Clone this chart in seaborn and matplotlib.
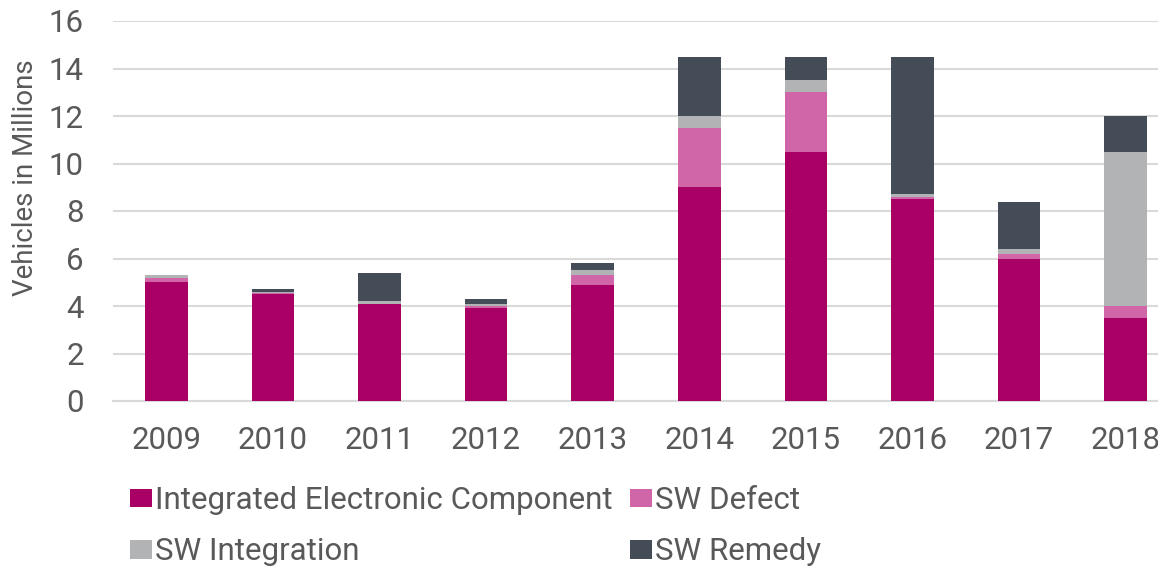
import numpy as np
import pandas as pd
import matplotlib
matplotlib.use("Agg")
import matplotlib.pyplot as plt
from matplotlib.patches import Patch
import seaborn as sns

years = ["2009", "2010", "2011", "2012", "2013", "2014", "2015", "2016", "2017", "2018"]
integrated_component = [5.0, 4.5, 4.1, 3.9, 4.9, 9.0, 10.5, 8.5, 6.0, 3.5]
sw_defect = [0.2, 0.03, 0.0, 0.08, 0.4, 2.5, 2.5, 0.07, 0.2, 0.5]
sw_integration = [0.1, 0.07, 0.1, 0.1, 0.2, 0.5, 0.5, 0.13, 0.2, 6.5]
sw_remedy = [0.0, 0.1, 1.2, 0.2, 0.3, 2.5, 1.0, 5.8, 2.0, 1.5]

series_names = ["Integrated Electronic Component", "SW Defect", "SW Integration", "SW Remedy"]
colors = ["#a80064", "#d066a8", "#b2b3b5", "#434c57"]

text_color = "#595959"
grid_color = "#d9d9d9"

sns.set_theme(style="white")
plt.rcParams["font.family"] = ["Roboto", "DejaVu Sans"]

df = pd.DataFrame({
    "year": years,
    series_names[0]: integrated_component,
    series_names[1]: sw_defect,
    series_names[2]: sw_integration,
    series_names[3]: sw_remedy,
})
# cumulative tops for stacking
cum = df[series_names].cumsum(axis=1)

fig = plt.figure(figsize=(11.58, 5.67), dpi=100)
ax = fig.add_axes([113 / 1158, 166 / 567, 1066 / 1158, 380 / 567])

# draw tallest layer first so lower layers sit on top
for name, color in zip(series_names[::-1], colors[::-1]):
    sns.barplot(x=df["year"], y=cum[name], color=color, width=0.4,
                linewidth=0, saturation=1, ax=ax, zorder=3)

ax.set_ylim(0, 16)
ax.set_yticks(np.arange(0, 17, 2))
ax.set_xlim(-0.5, 9.5)
ax.grid(axis="y", color=grid_color, linewidth=1.5, zorder=0)
ax.set_axisbelow(True)
for side in ["top", "right", "left"]:
    ax.spines[side].set_visible(False)
ax.spines["bottom"].set_color(grid_color)
ax.spines["bottom"].set_linewidth(1.5)

ax.tick_params(axis="y", length=0, pad=21, labelsize=22.5, labelcolor=text_color)
ax.tick_params(axis="x", length=0, pad=18, labelsize=22.5, labelcolor=text_color)
ax.set_xlabel("")
ax.set_ylabel("Vehicles in Millions", fontsize=20, color=text_color)
ax.yaxis.set_label_coords(-0.069, 0.587)

handles = [Patch(facecolor=c, edgecolor="none") for c in colors]
order = [0, 2, 1, 3]
fig.legend([handles[i] for i in order], [series_names[i] for i in order],
           loc="upper left", bbox_to_anchor=(130 / 1158, 1 - 486 / 567),
           ncol=2, frameon=False, fontsize=22.5, labelcolor=text_color,
           handlelength=0.7, handleheight=0.55, handletextpad=0.1,
           columnspacing=0.55, labelspacing=0.72, borderpad=0, borderaxespad=0)

fig.savefig("out.png", dpi=100)
